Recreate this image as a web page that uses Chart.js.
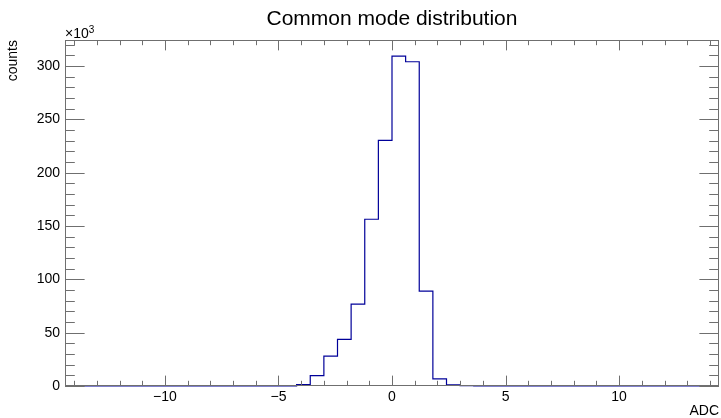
<!DOCTYPE html>
<html>
<head>
<meta charset="utf-8">
<script src="https://cdn.jsdelivr.net/npm/chart.js@4/dist/chart.umd.min.js"></script>
<style>
  html, body { margin: 0; padding: 0; background: #ffffff; }
  #wrap { width: 721px; height: 418px; }
</style>
</head>
<body>
<div id="wrap"><canvas id="c" width="721" height="418"></canvas></div>
<script>
// Histogram binning: 48 bins of 0.6 ADC from -14.4 to 14.4
const histLow = -14.4;
const binWidth = 0.6;
const counts = [
  0, 0, 0, 0, 0, 0, 0, 0, 0, 0, 0, 0,
  0, 0, 0, 0, 200, 1200, 9700, 28100, 43700, 76800, 156400, 230400,
  309400, 304100, 89000, 6600, 1000, 300, 100, 0, 0, 0, 0, 0,
  0, 0, 0, 0, 0, 0, 0, 0, 0, 0, 0, 0
];

// Axis ticks
const xMajorTicks = [-10, -5, 0, 5, 10];
const xMinorTicks = [-14, -13, -12, -11, -9, -8, -7, -6, -4, -3, -2, -1,
                     1, 2, 3, 4, 6, 7, 8, 9, 11, 12, 13, 14];
const yMajorTicks = [0, 50000, 100000, 150000, 200000, 250000, 300000];
const yMinorTicks = [10000, 20000, 30000, 40000, 60000, 70000, 80000, 90000,
                     110000, 120000, 130000, 140000, 160000, 170000, 180000, 190000,
                     210000, 220000, 230000, 240000, 260000, 270000, 280000, 290000,
                     310000, 320000];

const titleText = 'Common mode distribution';
const xTitle = 'ADC';
const yTitle = 'counts';

const FONT = '"Liberation Sans", Arial, Helvetica, sans-serif';
const FRAME = '#6f6f6f';

// step points at left bin edges, plus the closing right edge
const points = counts.map((v, i) => ({ x: histLow + i * binWidth, y: v }));
points.push({ x: histLow + counts.length * binWidth, y: counts[counts.length - 1] });

const frameAndText = {
  id: 'frameAndText',
  afterDraw(chart) {
    const ctx = chart.ctx;
    const a = chart.chartArea;
    const xs = chart.scales.x, ys = chart.scales.y;
    ctx.save();
    ctx.strokeStyle = FRAME;
    ctx.lineWidth = 1;
    ctx.strokeRect(a.left + 0.5, a.top + 0.5, a.right - a.left - 1, a.bottom - a.top - 1);

    const h = a.bottom - a.top, w = a.right - a.left;
    const xMaj = 0.03 * h, xMin = xMaj / 2;
    const yMaj = 0.03 * w, yMin = yMaj / 2;
    ctx.beginPath();
    const xt = (vals, len) => vals.forEach(v => {
      const px = Math.round(xs.getPixelForValue(v)) + 0.5;
      ctx.moveTo(px, a.bottom); ctx.lineTo(px, a.bottom - len);
      ctx.moveTo(px, a.top); ctx.lineTo(px, a.top + len);
    });
    const yt = (vals, len) => vals.forEach(v => {
      const py = Math.round(ys.getPixelForValue(v)) + 0.5;
      ctx.moveTo(a.left, py); ctx.lineTo(a.left + len, py);
      ctx.moveTo(a.right, py); ctx.lineTo(a.right - len, py);
    });
    xt(xMajorTicks, xMaj); xt(xMinorTicks, xMin);
    yt(yMajorTicks, yMaj); yt(yMinorTicks, yMin);
    ctx.stroke();

    ctx.fillStyle = '#000000';
    // title
    ctx.font = '21px ' + FONT;
    ctx.textAlign = 'center';
    ctx.textBaseline = 'alphabetic';
    ctx.fillText(titleText, (a.left + a.right) / 2, 25);
    // x axis title
    ctx.font = '14px ' + FONT;
    ctx.textAlign = 'right';
    ctx.textBaseline = 'middle';
    ctx.fillText(xTitle, a.right, 411.5);
    // y axis title
    ctx.save();
    ctx.translate(13.5, a.top);
    ctx.rotate(-Math.PI / 2);
    ctx.textAlign = 'right';
    ctx.textBaseline = 'middle';
    ctx.fillText(yTitle, 0, 0);
    ctx.restore();
    // exponent
    ctx.textAlign = 'left';
    ctx.textBaseline = 'alphabetic';
    ctx.font = '14px ' + FONT;
    ctx.fillText('\u00d710', a.left, 38);
    const wBase = ctx.measureText('\u00d710').width;
    ctx.font = '10px ' + FONT;
    ctx.fillText('3', a.left + wBase, 33);
    ctx.restore();
  }
};

new Chart(document.getElementById('c'), {
  type: 'line',
  data: {
    datasets: [{
      data: points,
      stepped: true,
      borderColor: '#000099',
      borderWidth: 1.2,
      pointRadius: 0,
      fill: false,
      clip: false
    }]
  },
  options: {
    responsive: false,
    animation: false,
    devicePixelRatio: 1,
    layout: { padding: { top: 40, right: 2, left: 0, bottom: 0 } },
    plugins: { legend: { display: false }, tooltip: { enabled: false } },
    scales: {
      x: {
        type: 'linear',
        min: histLow,
        max: histLow + counts.length * binWidth,
        grid: { display: false, drawTicks: false },
        border: { display: false },
        afterBuildTicks: s => { s.ticks = xMajorTicks.map(v => ({ value: v })); },
        ticks: {
          padding: 3,
          color: '#000',
          font: { family: FONT, size: 14 },
          maxRotation: 0,
          autoSkip: false,
          callback: v => (v < 0 ? '\u2212' + Math.abs(v) : String(v))
        },
        afterFit: s => { s.height = 32; }
      },
      y: {
        type: 'linear',
        min: 0,
        max: 324500,
        grid: { display: false, drawTicks: false },
        border: { display: false },
        afterBuildTicks: s => { s.ticks = yMajorTicks.map(v => ({ value: v })); },
        ticks: {
          padding: 5,
          color: '#000',
          autoSkip: false,
          font: { family: FONT, size: 14 },
          callback: v => String(Math.round(v / 1000))
        },
        afterFit: s => { s.width = 65; }
      }
    }
  },
  plugins: [frameAndText]
});
</script>
</body>
</html>
